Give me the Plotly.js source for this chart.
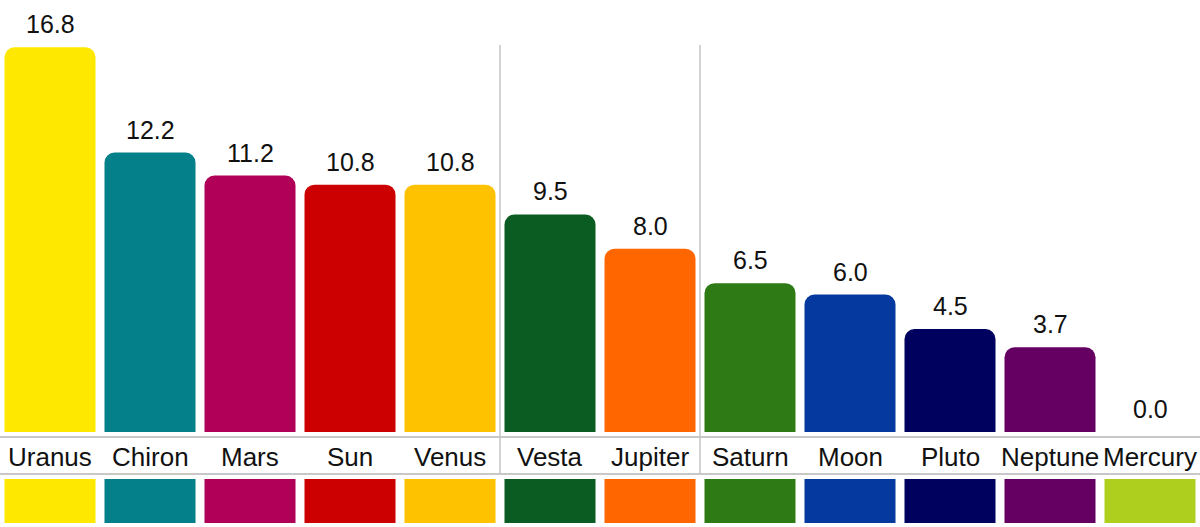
<!DOCTYPE html>
<html>
<head>
<meta charset="utf-8">
<script src="https://cdn.plot.ly/plotly-3.0.1.min.js"></script>
<style>html,body{margin:0;padding:0;background:#fff;}#chart{width:1200px;height:527px;}</style>
</head>
<body>
<div id="chart"></div>
<script>
const categories = ["Uranus","Chiron","Mars","Sun","Venus","Vesta","Jupiter","Saturn","Moon","Pluto","Neptune","Mercury"];
const values = [16.8, 12.2, 11.2, 10.8, 10.8, 9.5, 8.0, 6.5, 6.0, 4.5, 3.7, 0.0];
const colors = ["#FFE800","#03808A","#B00058","#CC0000","#FFC200","#0A5C23","#FF6600","#2E7A14","#0539A0","#00005F","#650062","#AFCF1E"];
const swatchValues = categories.map(() => 1);

const W = 1200, H = 527;
const baseY = 432;          // pixel of value 0
const pxPerUnit = 22.9;
const yTop = baseY / pxPerUnit;

const traces = [
  {
    type: "bar", x: categories, y: values, xaxis: "x", yaxis: "y",
    marker: {color: colors, cornerradius: 10, line: {width: 0}},
    hoverinfo: "x+y", showlegend: false
  },
  {
    type: "bar", x: categories, y: swatchValues, xaxis: "x", yaxis: "y2",
    marker: {color: colors, line: {width: 0}},
    hoverinfo: "x", showlegend: false
  }
];

const valueFont = {family: "Liberation Sans, Arial, sans-serif", size: 25, color: "#111"};
const labelFont = {family: "Liberation Sans, Arial, sans-serif", size: 26, color: "#111"};

const annotations = [];
categories.forEach((c, i) => {
  annotations.push({
    x: c, y: values[i], xref: "x", yref: "y",
    text: values[i].toFixed(1), showarrow: false,
    yanchor: "bottom", yshift: 7, font: valueFont
  });
  annotations.push({
    x: c, y: (H - 456.5) / H, xref: "x", yref: "paper",
    text: c, showarrow: false, yanchor: "middle", font: labelFont
  });
});

const shapes = [
  {type: "line", xref: "paper", yref: "paper", x0: 0, x1: 1, y0: (H - 437) / H, y1: (H - 437) / H, line: {color: "#C8C8C8", width: 2}},
  {type: "line", xref: "paper", yref: "paper", x0: 0, x1: 1, y0: (H - 474) / H, y1: (H - 474) / H, line: {color: "#C8C8C8", width: 2}},
  {type: "line", xref: "x", yref: "paper", x0: 4.5, x1: 4.5, y0: (H - 474) / H, y1: (H - 45) / H, line: {color: "#C4C4C4", width: 1.5}},
  {type: "line", xref: "x", yref: "paper", x0: 6.5, x1: 6.5, y0: (H - 474) / H, y1: (H - 45) / H, line: {color: "#C4C4C4", width: 1.5}}
];

const layout = {
  width: W, height: H,
  margin: {l: 0, r: 0, t: 0, b: 0, pad: 0},
  paper_bgcolor: "#fff", plot_bgcolor: "rgba(0,0,0,0)",
  bargap: 0.09,
  showlegend: false,
  xaxis: {type: "category", range: [-0.5, 11.5], showticklabels: false, showgrid: false, zeroline: false, showline: false, ticks: "", fixedrange: true},
  yaxis: {domain: [(H - baseY) / H, 1], range: [0, yTop], showticklabels: false, showgrid: false, zeroline: false, showline: false, ticks: "", fixedrange: true},
  yaxis2: {domain: [(H - 523) / H, (H - 479) / H], range: [0, 1], showticklabels: false, showgrid: false, zeroline: false, showline: false, ticks: "", fixedrange: true},
  annotations: annotations,
  shapes: shapes,
  font: valueFont
};

Plotly.newPlot("chart", traces, layout, {displayModeBar: false, staticPlot: true});
</script>
</body>
</html>
